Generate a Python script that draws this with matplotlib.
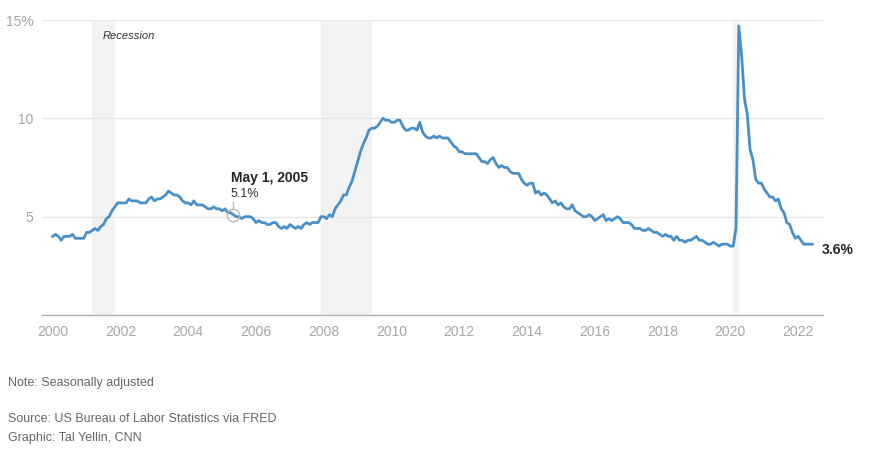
import matplotlib
matplotlib.use("Agg")
import matplotlib.pyplot as plt
import numpy as np

plt.rcParams['font.family'] = ['Liberation Sans', 'DejaVu Sans']

# Monthly unemployment rate (%), seasonally adjusted, Jan 2000 - Jun 2022
u2000 = [4.0, 4.1, 4.0, 3.8, 4.0, 4.0, 4.0, 4.1, 3.9, 3.9, 3.9, 3.9]
u2001 = [4.2, 4.2, 4.3, 4.4, 4.3, 4.5, 4.6, 4.9, 5.0, 5.3, 5.5, 5.7]
u2002 = [5.7, 5.7, 5.7, 5.9, 5.8, 5.8, 5.8, 5.7, 5.7, 5.7, 5.9, 6.0]
u2003 = [5.8, 5.9, 5.9, 6.0, 6.1, 6.3, 6.2, 6.1, 6.1, 6.0, 5.8, 5.7]
u2004 = [5.7, 5.6, 5.8, 5.6, 5.6, 5.6, 5.5, 5.4, 5.4, 5.5, 5.4, 5.4]
u2005 = [5.3, 5.4, 5.2, 5.2, 5.1, 5.0, 5.0, 4.9, 5.0, 5.0, 5.0, 4.9]
u2006 = [4.7, 4.8, 4.7, 4.7, 4.6, 4.6, 4.7, 4.7, 4.5, 4.4, 4.5, 4.4]
u2007 = [4.6, 4.5, 4.4, 4.5, 4.4, 4.6, 4.7, 4.6, 4.7, 4.7, 4.7, 5.0]
u2008 = [5.0, 4.9, 5.1, 5.0, 5.4, 5.6, 5.8, 6.1, 6.1, 6.5, 6.8, 7.3]
u2009 = [7.8, 8.3, 8.7, 9.0, 9.4, 9.5, 9.5, 9.6, 9.8, 10.0, 9.9, 9.9]
u2010 = [9.8, 9.8, 9.9, 9.9, 9.6, 9.4, 9.4, 9.5, 9.5, 9.4, 9.8, 9.3]
u2011 = [9.1, 9.0, 9.0, 9.1, 9.0, 9.1, 9.0, 9.0, 9.0, 8.8, 8.6, 8.5]
u2012 = [8.3, 8.3, 8.2, 8.2, 8.2, 8.2, 8.2, 8.0, 7.8, 7.8, 7.7, 7.9]
u2013 = [8.0, 7.7, 7.5, 7.6, 7.5, 7.5, 7.3, 7.2, 7.2, 7.2, 6.9, 6.7]
u2014 = [6.6, 6.7, 6.7, 6.2, 6.3, 6.1, 6.2, 6.1, 5.9, 5.7, 5.8, 5.6]
u2015 = [5.7, 5.5, 5.4, 5.4, 5.6, 5.3, 5.2, 5.1, 5.0, 5.0, 5.1, 5.0]
u2016 = [4.8, 4.9, 5.0, 5.1, 4.8, 4.9, 4.8, 4.9, 5.0, 4.9, 4.7, 4.7]
u2017 = [4.7, 4.6, 4.4, 4.4, 4.4, 4.3, 4.3, 4.4, 4.3, 4.2, 4.2, 4.1]
u2018 = [4.0, 4.1, 4.0, 4.0, 3.8, 4.0, 3.8, 3.8, 3.7, 3.8, 3.8, 3.9]
u2019 = [4.0, 3.8, 3.8, 3.7, 3.6, 3.6, 3.7, 3.6, 3.5, 3.6, 3.6, 3.6]
u2020 = [3.5, 3.5, 4.4, 14.7, 13.2, 11.0, 10.2, 8.4, 7.9, 6.9, 6.7, 6.7]
u2021 = [6.4, 6.2, 6.0, 6.0, 5.8, 5.9, 5.4, 5.2, 4.7, 4.6, 4.2, 3.9]
u2022 = [4.0, 3.8, 3.6, 3.6, 3.6, 3.6]

start_year = 2000
years_data = [u2000, u2001, u2002, u2003, u2004, u2005, u2006, u2007, u2008,
              u2009, u2010, u2011, u2012, u2013, u2014, u2015, u2016, u2017,
              u2018, u2019, u2020, u2021, u2022]

# Recessions (start, end) as (year, month)
recessions = [((2001, 3), (2001, 11)), ((2007, 12), (2009, 6)), ((2020, 2), (2020, 4))]

x_ticks = [2000, 2002, 2004, 2006, 2008, 2010, 2012, 2014, 2016, 2018, 2020, 2022]
y_ticks = [5, 10, 15]
y_tick_labels = ["5", "10", "15%"]

highlight = (2005, 5)
highlight_label = "May 1, 2005"

vals = []
xs = []
for i, yr in enumerate(years_data):
    for m, v in enumerate(yr):
        xs.append(start_year + i + m / 12)
        vals.append(v)
xs = np.array(xs)
vals = np.array(vals)

def ym(y, m):
    return y + (m - 1) / 12

W, H = 889, 465
fig = plt.figure(figsize=(W / 100, H / 100), dpi=100)
ax = fig.add_axes([42 / W, 1 - 315 / H, (823 - 42) / W, (315 - 20) / H])

ax.set_xlim(1999.684, 2022.735)
ax.set_ylim(0, 15)

for (s, e) in recessions:
    ax.axvspan(ym(*s), ym(*e), color="#f2f2f2", zorder=0, lw=0)

for yv in y_ticks:
    ax.axhline(yv, color="#e6e6e6", lw=0.9, zorder=1)

ax.plot(xs, vals, color="#4a90c8", lw=2.0, zorder=3, solid_joinstyle="round")

for s in ["top", "right", "left"]:
    ax.spines[s].set_visible(False)
ax.spines["bottom"].set_color("#b0b0b0")
ax.spines["bottom"].set_linewidth(1.0)

ax.set_xticks(x_ticks)
ax.set_xticklabels([str(t) for t in x_ticks])
ax.set_yticks(y_ticks)
ax.set_yticklabels(y_tick_labels)
ax.tick_params(axis="x", length=0, pad=7, labelsize=10, labelcolor="#a6a6a6")
ax.tick_params(axis="y", length=0, pad=6, labelsize=10, labelcolor="#a6a6a6")

ax.text(2001.46, 14.2, "Recession", fontsize=8, style="italic", color="#333333",
        va="center", ha="left")

# highlight point
hx = ym(*highlight)
hy = vals[np.argmin(np.abs(xs - hx))]
ax.plot([hx], [hy], marker="o", ms=9, mfc="none", mec="#b8b8b8", mew=1.0, zorder=4)
ax.plot([hx, hx], [hy + 0.3, hy + 0.65], color="#b8b8b8", lw=0.9, zorder=4)
ax.text(hx - 0.08, 6.95, highlight_label, fontsize=10, fontweight="bold", color="#262626",
        ha="left", va="center")
ax.text(hx - 0.08, 6.15, f"{hy:.1f}%", fontsize=9, color="#333333", ha="left", va="center")

# end label
ax.text(xs[-1] + 0.28, vals[-1] - 0.3, f"{vals[-1]:.1f}%", fontsize=10, fontweight="bold",
        color="#262626", ha="left", va="center", clip_on=False)

fig.text(8 / W, 1 - 383 / H, "Note: Seasonally adjusted", fontsize=9, color="#666666", va="center")
fig.text(8 / W, 1 - 419 / H, "Source: US Bureau of Labor Statistics via FRED", fontsize=9,
         color="#666666", va="center")
fig.text(8 / W, 1 - 438 / H, "Graphic: Tal Yellin, CNN", fontsize=9, color="#666666", va="center")

fig.savefig("out.png", dpi=100, facecolor="white")
